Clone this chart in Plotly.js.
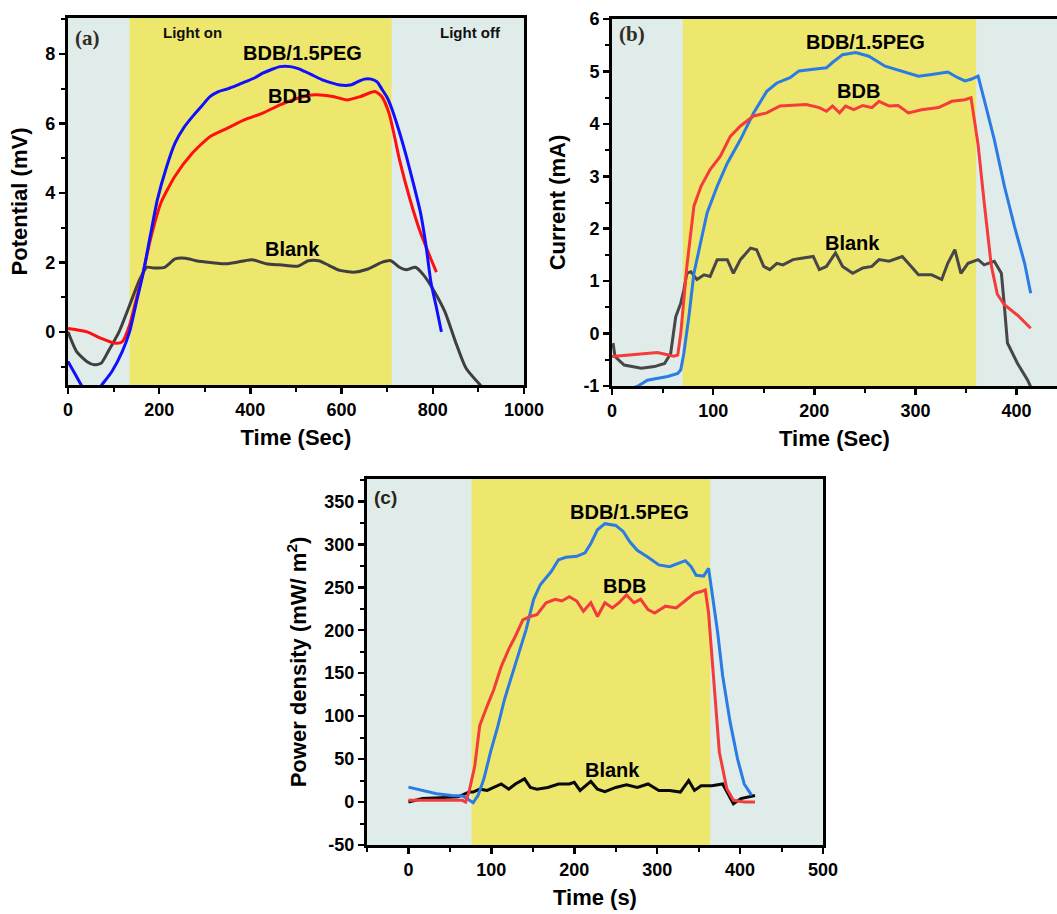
<!DOCTYPE html>
<html>
<head>
<meta charset="utf-8">
<script src="https://cdn.plot.ly/plotly-3.0.1.min.js"></script>
<style>html,body{margin:0;padding:0;background:#fff;}#chart{width:1057px;height:914px;}</style>
</head>
<body>
<div id="chart"></div>
<script>
// ---------- Panel (a): Potential (mV) vs Time (Sec) ----------
const aPegT = [0,15,30,50,73,96,119,135,150,165,181,196,215,235,255,273,293,312,330,350,370,388,410,427,445,465,488,505,519,540,558,578,596,619,635,650,665,678,688,700,711,727,742,758,773,785,796,808,819];
const aPegV = [-0.85,-1.2,-1.55,-2.0,-1.55,-1.15,-0.57,0,0.85,1.7,2.8,3.8,4.7,5.44,5.9,6.2,6.5,6.78,6.92,7.0,7.1,7.2,7.32,7.45,7.55,7.64,7.64,7.58,7.5,7.37,7.26,7.17,7.11,7.11,7.2,7.28,7.28,7.2,7.0,6.75,6.4,5.75,5.06,4.25,3.44,2.5,1.43,0.7,0];
const aBdbT = [0,42,73,104,119,135,150,165,181,204,235,273,312,350,388,427,465,504,542,581,612,642,673,688,704,715,727,750,773,796,808];
const aBdbV = [0.1,0,-0.19,-0.33,-0.29,0.19,0.95,1.72,2.67,3.72,4.49,5.15,5.63,5.87,6.11,6.3,6.54,6.73,6.83,6.78,6.68,6.78,6.92,6.78,6.3,5.7,4.96,3.82,2.86,2.1,1.72];
const aBlankT = [0,19,42,58,73,88,112,135,158,173,188,212,235,258,281,312,350,388,404,435,465,504,527,550,573,596,627,658,688,708,727,742,762,781,804,827,850,873,904,920];
const aBlankV = [0,-0.57,-0.86,-0.95,-0.9,-0.57,0,0.76,1.53,1.86,1.84,1.86,2.1,2.12,2.05,2.0,1.96,2.05,2.08,1.96,1.93,1.89,2.05,2.05,1.91,1.77,1.72,1.81,2.0,2.05,1.86,1.79,1.86,1.62,1.15,0.57,-0.29,-1.05,-1.53,-1.75];
const aLightOn = [135, 710];

// ---------- Panel (b): Current (mA) vs Time (Sec) ----------
const bPegT = [0,25,35,45,55,65,68,71,76,81,88,94,104,114,127,140,153,163,176,185,199,212,218,228,241,254,270,287,303,316,332,342,349,355,362,368,378,388,398,408,414];
const bPegV = [-1.15,-1.01,-0.89,-0.85,-0.82,-0.76,-0.69,-0.38,0.32,1.15,1.79,2.3,2.81,3.25,3.7,4.21,4.62,4.78,4.88,5.01,5.04,5.07,5.17,5.32,5.36,5.29,5.1,5.0,4.91,4.94,4.99,4.88,4.82,4.85,4.91,4.46,3.7,2.81,2.04,1.34,0.77];
const bBdbT = [0,29,45,61,65,68,74,81,88,97,107,117,127,140,153,166,179,192,205,212,218,225,231,239,248,257,264,274,283,293,306,323,336,349,355,362,368,375,381,388,401,414];
const bBdbV = [-0.44,-0.38,-0.36,-0.43,-0.41,0,1.28,2.43,2.81,3.13,3.38,3.76,3.96,4.15,4.21,4.34,4.35,4.37,4.31,4.24,4.34,4.21,4.34,4.27,4.35,4.31,4.43,4.34,4.35,4.21,4.27,4.31,4.43,4.46,4.5,3.6,2.5,1.3,0.75,0.55,0.35,0.1];
const bBlankT = [1,3,12,29,42,52,58,63,68,71,74,78,84,91,97,104,114,120,127,137,143,150,156,163,169,179,189,199,205,212,221,228,238,248,257,264,274,287,293,303,316,326,332,339,345,352,362,368,378,385,388,391,401,411,416];
const bBlankV = [-0.18,-0.44,-0.6,-0.66,-0.63,-0.57,-0.38,0.32,0.58,0.83,1.15,1.18,1.03,1.12,1.09,1.41,1.41,1.15,1.41,1.63,1.6,1.28,1.22,1.34,1.31,1.41,1.44,1.47,1.22,1.28,1.54,1.28,1.15,1.25,1.28,1.41,1.38,1.47,1.34,1.12,1.12,1.03,1.34,1.6,1.15,1.34,1.41,1.31,1.38,1.15,0.52,-0.18,-0.57,-0.89,-1.1];
const bLightOn = [70, 360];

// ---------- Panel (c): Power density vs Time (s) ----------
const cPegT = [0,17,34,52,65,71,78,84,91,99,108,116,129,142,151,159,172,181,190,203,213,220,228,237,250,259,267,276,289,302,315,323,334,341,347,356,362,366,373,379,388,397,405,414];
const cPegV = [17.4,13.5,9.7,7.7,7,3.9,-0.8,7.7,27,58,89,120,162,201,236,253,268,282,285,286,290,301,317,324,322,315,303,293,285,276,274,277,281,274,264,263,272,245,197,147,93,50,21,7.7];
const cBdbT = [0,39,65,69,73,80,86,95,103,112,121,129,138,147,155,166,177,185,194,203,211,220,228,237,246,254,263,272,280,289,297,310,323,336,345,353,358,362,369,375,384,392,405,418];
const cBdbV = [2,2,2,0,11.6,42,89,112,131,158,178,193,212,216,218,232,236,234,239,234,222,232,216,232,226,232,241,232,236,224,220,228,226,236,243,245,247,220,127,58,15.4,2,0,0];
const cBlankT = [0,17,60,73,78,86,95,103,112,121,129,140,147,155,168,181,194,200,207,220,228,237,250,263,276,289,302,315,328,338,345,353,366,379,384,392,401,409,418];
const cBlankV = [0,4,6,11.6,11.6,15,13.5,17,21,15,21,27,17,15,17,21,21,23,13.5,24,15,12,17,20,17,21,13.5,13.5,11.6,25,13.5,19,19,21,11.6,-2,4,6,7.7];
const cLightOn = [76, 364];

// ---------- Tick labels ----------
const aXTicks = [0,200,400,600,800,1000];
const aYTicks = [0,2,4,6,8];
const bXTicks = [0,100,200,300,400];
const bYTicks = [-1,0,1,2,3,4,5,6];
const cXTicks = [0,100,200,300,400,500];
const cYTicks = [-50,0,50,100,150,200,250,300,350];
const lbl = v => v.map(n => String(n)); // hyphen minus as in the original

const YELLOW = '#eee76e';
const BG = '#dfecea';
const F = 'Liberation Sans, Arial, sans-serif';

function line(x, y, color, xa, ya, name, smooth) {
  const ln = {color, width:3};
  if (smooth) { ln.shape = 'spline'; ln.smoothing = 0.6; }
  return {x, y, type:'scatter', mode:'lines', name, xaxis:xa, yaxis:ya,
          line:ln, showlegend:false, hoverinfo:'skip'};
}

const traces = [
  line(aBlankT, aBlankV, '#3f3f3f', 'x', 'y', 'Blank', true),
  line(aBdbT, aBdbV, '#ff1010', 'x', 'y', 'BDB', true),
  line(aPegT, aPegV, '#1010ff', 'x', 'y', 'BDB/1.5PEG', true),
  line(bBlankT, bBlankV, '#474747', 'x2', 'y2', 'Blank'),
  line(bPegT, bPegV, '#2b7be4', 'x2', 'y2', 'BDB/1.5PEG'),
  line(bBdbT, bBdbV, '#f53b3b', 'x2', 'y2', 'BDB'),
  line(cBlankT, cBlankV, '#0a0a0a', 'x3', 'y3', 'Blank'),
  line(cPegT, cPegV, '#2b7be4', 'x3', 'y3', 'BDB/1.5PEG'),
  line(cBdbT, cBdbV, '#f23c3c', 'x3', 'y3', 'BDB')
];

const TF = {family:F, size:22, color:'#000', weight:'bold'};
function axis(extra) {
  return Object.assign({
    showline:true, linewidth:3, linecolor:'#000', mirror:true,
    ticks:'outside', ticklen:6, tickwidth:2.5, tickcolor:'#000',
    showgrid:false, zeroline:false, tickmode:'array',
    tickfont:{family:F, size:18, color:'#000', weight:'bold'}
  }, extra);
}
function minor(d) { return {ticks:'outside', ticklen:4, tickwidth:2, tickcolor:'#000', dtick:d, showgrid:false}; }

const layout = {
  width:1057, height:914,
  margin:{l:0, r:0, t:0, b:0},
  paper_bgcolor:'#fff', plot_bgcolor:BG,
  showlegend:false,
  xaxis: axis({domain:[0.0643,0.4957], range:[0,1000], anchor:'y', tickvals:aXTicks, ticktext:lbl(aXTicks), minor:minor(100),
               title:{text:'Time (Sec)', standoff:12, font:TF}}),
  yaxis: axis({domain:[0.5788,0.9803], range:[-1.53,9.04], anchor:'x', tickvals:aYTicks, ticktext:lbl(aYTicks), minor:minor(1),
               title:{text:'Potential (mV)', standoff:12, font:TF}}),
  xaxis2: axis({domain:[0.579,1.0], range:[0,440], anchor:'y2', tickvals:bXTicks, ticktext:lbl(bXTicks), minor:minor(50),
               title:{text:'Time (Sec)', standoff:12, font:TF}}),
  yaxis2: axis({domain:[0.5777,0.9792], range:[-1,6], anchor:'x2', mirror:false, tickvals:bYTicks, ticktext:lbl(bYTicks), minor:minor(0.5),
               title:{text:'Current (mA)', standoff:12, font:TF}}),
  xaxis3: axis({domain:[0.3472,0.7786], range:[-50,500], anchor:'y3', tickvals:cXTicks, ticktext:lbl(cXTicks), minor:minor(50),
               title:{text:'Time (s)', standoff:12, font:TF}}),
  yaxis3: axis({domain:[0.0755,0.4759], range:[-50,376], anchor:'x3', tickvals:cYTicks, ticktext:lbl(cYTicks), minor:minor(25),
               title:{text:'Power density (mW/ m<sup>2</sup>)', standoff:12, font:TF}}),
  shapes: [
    {type:'rect', xref:'x', yref:'y domain', x0:aLightOn[0], x1:aLightOn[1], y0:0, y1:1, fillcolor:YELLOW, line:{width:0}, layer:'below'},
    {type:'rect', xref:'x2', yref:'y2 domain', x0:bLightOn[0], x1:bLightOn[1], y0:0, y1:1, fillcolor:YELLOW, line:{width:0}, layer:'below'},
    {type:'rect', xref:'x3', yref:'y3 domain', x0:cLightOn[0], x1:cLightOn[1], y0:0, y1:1, fillcolor:YELLOW, line:{width:0}, layer:'below'}
  ],
  annotations: [
    {xref:'x domain', yref:'y domain', x:0.012, y:0.945, xanchor:'left', yanchor:'middle', showarrow:false, text:'(a)', font:{family:'Liberation Serif, Times New Roman, serif', size:21, color:'#332c22', weight:'bold'}},
    {xref:'x', yref:'y', x:274, y:8.63, showarrow:false, text:'Light on', font:{family:F, size:15, color:'#111', weight:'bold'}},
    {xref:'x', yref:'y', x:882, y:8.63, showarrow:false, text:'Light off', font:{family:F, size:15, color:'#111', weight:'bold'}},
    {xref:'x', yref:'y', x:515, y:8.03, showarrow:false, text:'BDB/1.5PEG', font:{family:F, size:20, color:'#000', weight:'bold'}},
    {xref:'x', yref:'y', x:485, y:6.8, showarrow:false, text:'BDB', font:{family:F, size:20, color:'#000', weight:'bold'}},
    {xref:'x', yref:'y', x:493, y:2.39, showarrow:false, text:'Blank', font:{family:F, size:20, color:'#000', weight:'bold'}},

    {xref:'x2 domain', yref:'y2 domain', x:0.012, y:0.96, xanchor:'left', yanchor:'middle', showarrow:false, text:'(b)', font:{family:'Liberation Serif, Times New Roman, serif', size:21, color:'#332c22', weight:'bold'}},
    {xref:'x2', yref:'y2', x:251, y:5.56, showarrow:false, text:'BDB/1.5PEG', font:{family:F, size:20, color:'#000', weight:'bold'}},
    {xref:'x2', yref:'y2', x:244, y:4.62, showarrow:false, text:'BDB', font:{family:F, size:20, color:'#000', weight:'bold'}},
    {xref:'x2', yref:'y2', x:238, y:1.73, showarrow:false, text:'Blank', font:{family:F, size:20, color:'#000', weight:'bold'}},

    {xref:'x3 domain', yref:'y3 domain', x:0.012, y:0.95, xanchor:'left', yanchor:'middle', showarrow:false, text:'(c)', font:{family:F, size:19, color:'#2a2418', weight:'bold'}},
    {xref:'x3', yref:'y3', x:267, y:338, showarrow:false, text:'BDB/1.5PEG', font:{family:F, size:20, color:'#000', weight:'bold'}},
    {xref:'x3', yref:'y3', x:261, y:251, showarrow:false, text:'BDB', font:{family:F, size:20, color:'#000', weight:'bold'}},
    {xref:'x3', yref:'y3', x:246, y:37, showarrow:false, text:'Blank', font:{family:F, size:20, color:'#000', weight:'bold'}}
  ]
};

Plotly.newPlot('chart', traces, layout, {staticPlot:true, displayModeBar:false});
</script>
</body>
</html>
